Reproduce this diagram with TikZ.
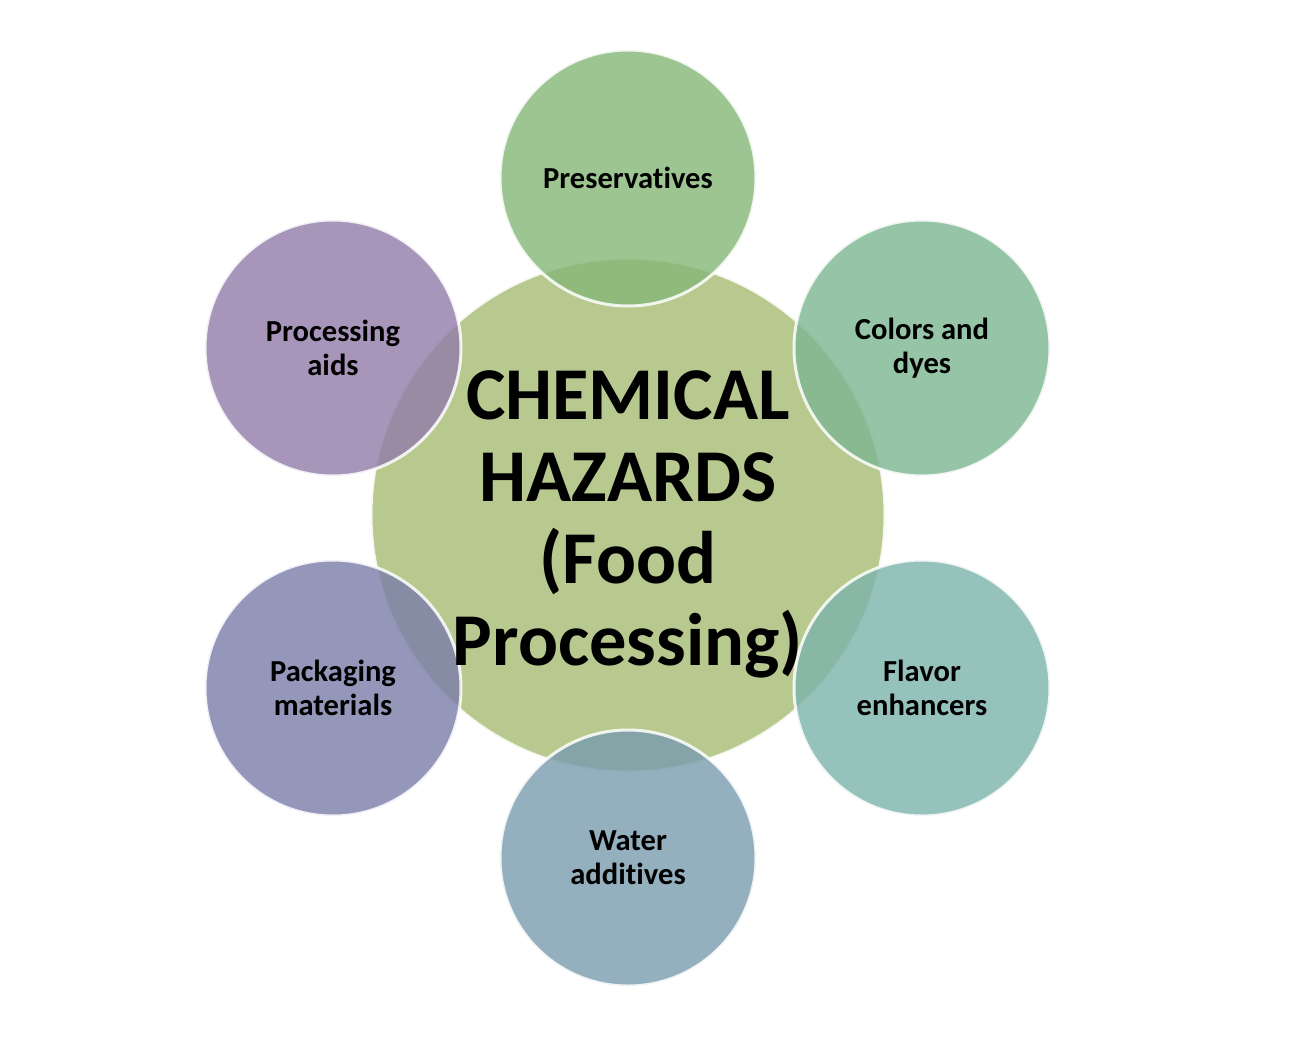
\documentclass[tikz,border=0pt]{standalone}
\usepackage{fontspec}
\setmainfont{Carlito}[RawFeature=-liga]
\usepackage{xcolor}
\usepackage{tikz}
\usetikzlibrary{positioning}

\definecolor{cHazard}{RGB}{166,188,115}
\definecolor{cPres}{RGB}{133,183,119}
\definecolor{cColor}{RGB}{124,181,144}
\definecolor{cFlav}{RGB}{124,179,171}
\definecolor{cWater}{RGB}{121,155,174}
\definecolor{cPack}{RGB}{121,125,169}
\definecolor{cAids}{RGB}{145,124,169}

\tikzset{
  bubble/.style={circle, inner sep=0pt, fill=#1, fill opacity=0.8, text opacity=1,
    draw=white, draw opacity=0.85, line width=0.3mm, align=center,
    font=\bfseries\fontsize{8.7}{9.7}\selectfont},
  bigbubble/.style={bubble=#1, minimum size=51.4mm},
  smallbubble/.style={bubble=#1, minimum size=25.6mm},
  bigtext/.style={align=center, font=\bfseries\fontsize{21.2}{23.3}\selectfont}
}

\begin{document}
\begin{tikzpicture}[x=0.1mm,y=-0.1mm]
	\useasboundingbox (0,0) rectangle (1300,1038);
	
	% vòng tròn trung tâm
	\node[bigbubble=cHazard] (hazard) at (628,515) {};
	
	% sáu vòng tròn xung quanh
	\foreach \nm/\px/\py/\col/\txt in {
		preserv/628/178/cPres/Preservatives,
		colors/922/348/cColor/{Colors and\\dyes},
		flavor/922/688/cFlav/{Flavor\\enhancers},
		water/628/858/cWater/{Water\\additives},
		packag/333/688/cPack/{Packaging\\materials},
		aids/333/348/cAids/{Processing\\aids}} {
		\node[smallbubble=\col] (\nm) at (\px,\py) {\txt};
	}
	
	% chữ ở giữa
	\node[bigtext, yshift=-2.6pt] (hazardtext) at (hazard.center) {CHEMICAL\\HAZARDS\\(Food\\Processing)};
\end{tikzpicture}
\end{document}
